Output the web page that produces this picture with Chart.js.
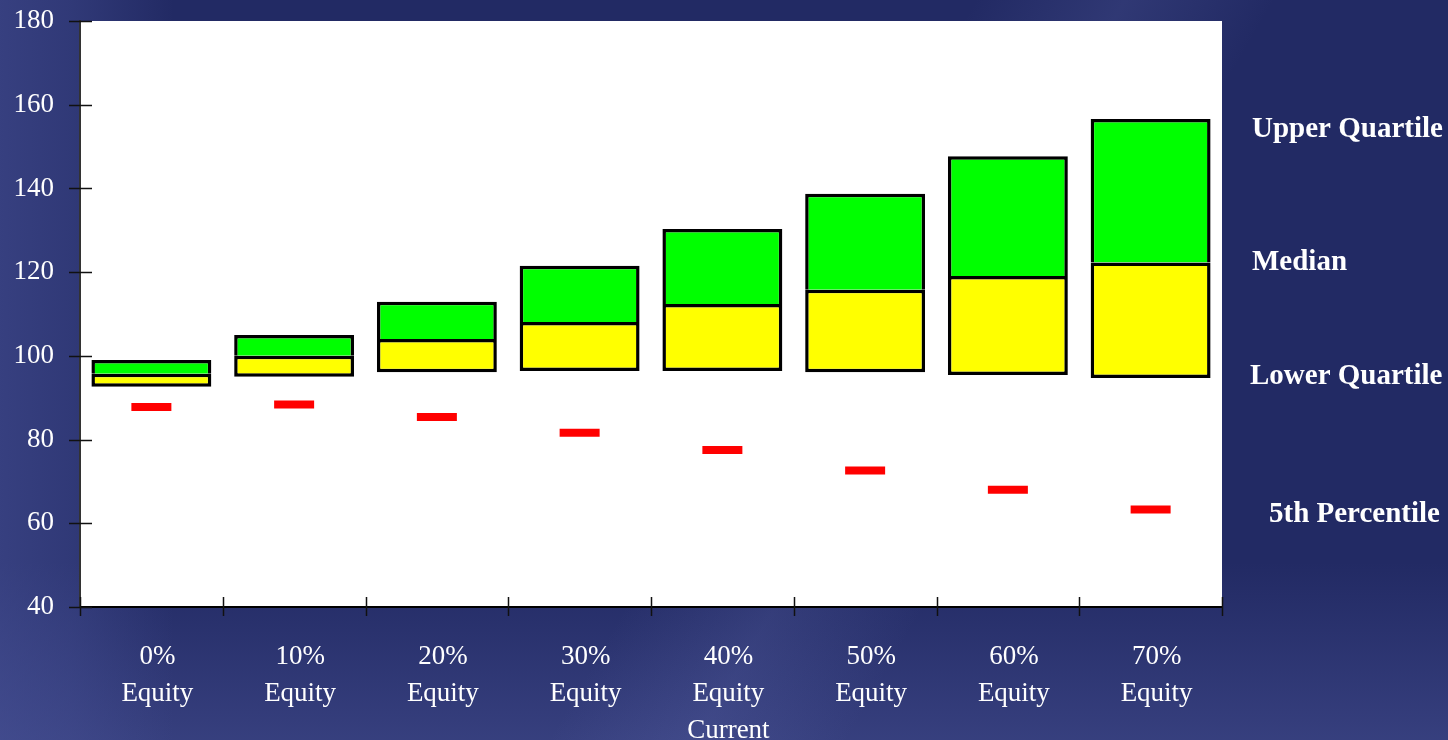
<!DOCTYPE html>
<html>
<head>
<meta charset="utf-8">
<script src="https://cdn.jsdelivr.net/npm/chart.js@4.4.1/dist/chart.umd.min.js"></script>
<style>
  html, body { margin: 0; padding: 0; }
  body {
    width: 1448px;
    height: 740px;
    overflow: hidden;
    background-color: #222a64;
    background-image:
      linear-gradient(120deg, rgba(255,255,255,0) 52%, rgba(120,130,200,0.16) 60%, rgba(255,255,255,0) 68%),
      linear-gradient(90deg, rgba(75,85,155,0.5) 0%, rgba(75,85,155,0.35) 5%, rgba(75,85,155,0) 12%),
      linear-gradient(0deg, rgba(85,95,165,0.4) 0%, rgba(85,95,165,0) 24%);
  }
  #wrap { position: relative; width: 1448px; height: 740px; }
  canvas { display: block; }
</style>
</head>
<body>
<div id="wrap"><canvas id="chart" width="1448" height="740"></canvas></div>
<script>
// values
const categories = [
  ['0%', 'Equity'],
  ['10%', 'Equity'],
  ['20%', 'Equity'],
  ['30%', 'Equity'],
  ['40%', 'Equity', 'Current'],
  ['50%', 'Equity'],
  ['60%', 'Equity'],
  ['70%', 'Equity']
];
const lowerQuartile = [92.6, 95.0, 96.1, 96.4, 96.4, 96.1, 95.4, 94.7];
const median        = [95.7, 100.0, 104.0, 108.1, 112.4, 115.8, 119.1, 122.3];
const upperQuartile = [99.0, 105.0, 112.9, 121.5, 130.3, 138.7, 147.7, 156.6];
const percentile5   = [87.8, 88.4, 85.4, 81.6, 77.5, 72.6, 68.0, 63.3];

const yMin = 40;
const yMax = 180;
const yStep = 20;

// labels on the right, next to the last column
const sideLabels = ['Upper Quartile', 'Median', 'Lower Quartile', '5th Percentile'];
const sideValues = [upperQuartile, median, lowerQuartile, percentile5];

const serif = "'Liberation Serif', 'Times New Roman', serif";

// white plot area, crossing tick marks and the side labels
const frame = {
  id: 'frame',
  beforeDraw(chart) {
    const { ctx, chartArea: a } = chart;
    ctx.save();
    ctx.fillStyle = '#ffffff';
    ctx.fillRect(a.left, a.top, a.width, a.height);
    ctx.restore();
  },
  afterDraw(chart) {
    const { ctx, chartArea: a, scales } = chart;
    const y = scales.y;
    ctx.save();
    ctx.strokeStyle = '#111';
    ctx.lineWidth = 1.5;
    ctx.beginPath();
    y.ticks.forEach(t => {
      const py = Math.round(y.getPixelForValue(t.value)) + 0.5;
      ctx.moveTo(a.left - 11, py);
      ctx.lineTo(a.left + 12, py);
    });
    const n = categories.length;
    for (let i = 0; i <= n; i++) {
      const px = Math.round(a.left + i * a.width / n) + 0.5;
      ctx.moveTo(px, a.bottom - 10);
      ctx.lineTo(px, a.bottom + 9);
    }
    ctx.stroke();

    ctx.fillStyle = '#ffffff';
    ctx.font = 'bold 29px ' + serif;
    ctx.textBaseline = 'middle';
    ctx.textAlign = 'left';
    const dx = [30, 30, 28, 47];
    const dy = [11, 0, -2, 5];
    sideLabels.forEach((lbl, i) => {
      const vals = sideValues[i];
      const py = y.getPixelForValue(vals[vals.length - 1]);
      ctx.fillText(lbl, a.right + dx[i], py + dy[i]);
    });
    ctx.restore();
  }
};

const boxStyle = {
  grouped: false,
  barPercentage: 0.84,
  categoryPercentage: 1,
  borderColor: '#000000',
  borderSkipped: false,
  inflateAmount: 0
};

new Chart(document.getElementById('chart'), {
  data: {
    labels: categories,
    datasets: [
      {
        type: 'line',
        label: '5th Percentile',
        data: percentile5,
        showLine: false,
        pointStyle: 'line',
        pointRadius: 20,
        pointHoverRadius: 20,
        pointBorderWidth: 8,
        pointHoverBorderWidth: 8,
        pointBorderColor: '#ff0000',
        pointBackgroundColor: '#ff0000',
        order: 0
      },
      // yellow box drawn over the green one, its top edge is the median line
      Object.assign({
        type: 'bar',
        label: 'Lower Quartile - Median',
        data: lowerQuartile.map((v, i) => [v, median[i]]),
        backgroundColor: '#ffff00',
        borderWidth: 3.5,
        order: 1
      }, boxStyle),
      Object.assign({
        type: 'bar',
        label: 'Median - Upper Quartile',
        data: median.map((v, i) => [v, upperQuartile[i]]),
        backgroundColor: '#00ff00',
        borderWidth: { top: 3.5, right: 3.5, bottom: 0, left: 3.5 },
        order: 2
      }, boxStyle)
    ]
  },
  options: {
    responsive: false,
    animation: false,
    layout: { autoPadding: false, padding: { top: 21, right: 226, bottom: 0, left: 0 } },
    plugins: {
      legend: { display: false },
      tooltip: { enabled: false }
    },
    scales: {
      x: {
        grid: { display: false, drawTicks: false },
        border: { display: true, color: '#000', width: 2 },
        ticks: {
          color: '#ffffff',
          padding: 31,
          labelOffset: 6,
          maxRotation: 0,
          font: { family: serif, size: 27, lineHeight: 1.37 }
        },
        afterFit(s) { s.height = 133; }
      },
      y: {
        min: yMin,
        max: yMax,
        grid: { display: false, drawTicks: false },
        border: { display: true, color: '#333', width: 2 },
        ticks: {
          stepSize: yStep,
          color: '#ffffff',
          padding: 26,
          font: { family: serif, size: 27 }
        },
        afterFit(s) {
          s.width = 80;
          s.paddingTop = 0;
          s.paddingBottom = 0;
        }
      }
    }
  },
  plugins: [frame]
});
</script>
</body>
</html>
